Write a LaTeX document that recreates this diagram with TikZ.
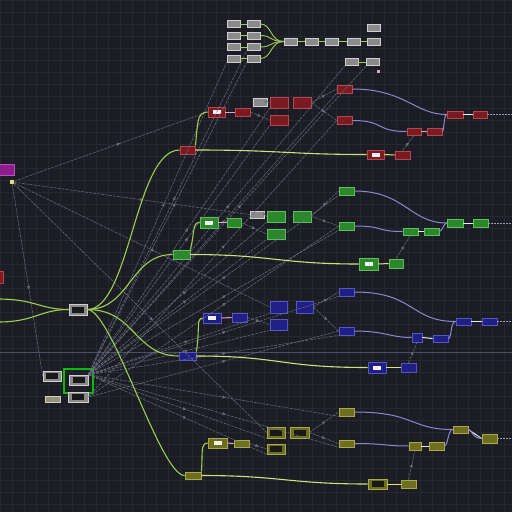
\documentclass[tikz,border=0pt]{standalone}
\usetikzlibrary{decorations.markings,arrows.meta}
\definecolor{bgc}{HTML}{1C1D24}
\definecolor{gridc}{HTML}{252731}
\definecolor{hlc}{HTML}{4B4E6A}
\definecolor{redf}{HTML}{7A1B22}
\definecolor{redd}{HTML}{B5464E}
\definecolor{grnf}{HTML}{2A872A}
\definecolor{grnd}{HTML}{5CC05C}
\definecolor{bluf}{HTML}{1F1F84}
\definecolor{blud}{HTML}{5656C2}
\definecolor{olvf}{HTML}{6E6E1F}
\definecolor{olvd}{HTML}{A9A94A}
\definecolor{gryf}{HTML}{8A8A8A}
\definecolor{gryd}{HTML}{CFCFCF}
\definecolor{magf}{HTML}{8C1E8C}
\definecolor{magd}{HTML}{C04CC0}
\definecolor{purc}{HTML}{8E86D0}
\definecolor{lgc}{HTML}{9ECE4C}
\definecolor{ygc}{HTML}{CDE27A}
\definecolor{dgc}{HTML}{6C7084}
\definecolor{pkc}{HTML}{E7A0C8}
\definecolor{ylc}{HTML}{E6E07A}
\begin{document}
\begin{tikzpicture}[x=1pt,y=-1pt,
  nd/.style={rectangle, inner sep=0pt, line width=0.7pt},
  sz/.style 2 args={minimum width=#1pt, minimum height=#2pt},
  rn/.style={nd, fill=redf, draw=redd},
  gn/.style={nd, fill=grnf, draw=grnd},
  bn/.style={nd, fill=bluf, draw=blud},
  on/.style={nd, fill=olvf, draw=olvd},
  yn/.style={nd, fill=gryf, draw=gryd},
  linebox/.style={path picture={\fill[white!88!gray] ([xshift=-4pt,yshift=-2pt]path picture bounding box.center) rectangle ([xshift=4pt,yshift=2pt]path picture bounding box.center);}},
  darkbox/.style={path picture={\fill[black!90] ([xshift=-6pt,yshift=-3pt]path picture bounding box.center) rectangle ([xshift=6pt,yshift=3pt]path picture bounding box.center);}},
  gw/.style={draw=lgc, line width=1.1pt},
  yw/.style={draw=ygc, line width=1.1pt},
  pw/.style={draw=purc, line width=1pt},
  lk/.style={draw=pkc, line width=1pt},
  lkw/.style={draw=white!80!purc, line width=1pt},
  lky/.style={draw=ylc, line width=1pt},
  ref/.style={draw=dgc, line width=0.6pt, dash pattern=on 3pt off 1pt, opacity=0.85,
     postaction={decorate}, decoration={markings, mark=at position 0.55 with {\arrow[fill=dgc, draw=dgc]{Latex[length=3.5pt,width=3.5pt]}}}},
  refp/.style={draw=dgc!70!white, line width=0.6pt, dash pattern=on 1.5pt off 1.5pt}
]
\useasboundingbox (0,0) rectangle (512,512);
\fill[bgc] (0,0) rectangle (512,512);
\foreach \i in {0,12,...,504} {
  \draw[gridc, line width=0.4pt] (\i,0) -- (\i,512);
  \draw[gridc, line width=0.4pt] (0,\i) -- (512,\i);
}
\draw[hlc, line width=1pt] (0,352.5) -- (512,352.5);

% ---------------- left nodes
\node[nd, fill=magf, draw=magd, sz={17}{11}] (mg) at (6,170) {};
\node[nd, fill=ylc, draw=ylc, sz={3}{3}] (ys) at (12,182) {};
\node[rn, sz={9}{12}] (rl) at (-1,277) {};
\node[yn, darkbox, sz={18}{11}] (gm) at (78,309.5) {};
\node[yn, darkbox, sz={18}{10}] (n1) at (52,376) {};
\node[nd, draw=green!75!black, line width=1.3pt, sz={29}{24}] (fr) at (78.5,381) {};
\node[yn, darkbox, sz={19}{10}] (n2) at (78.5,380) {};
\node[yn, darkbox, sz={20}{10}] (n3) at (78,397) {};
\node[nd, fill=gryf!70!olvd, draw=gryd, sz={15}{6}] (n4) at (52.5,399) {};
\coordinate (inA) at (-2,299);
\coordinate (inB) at (-2,322);

% ---------------- top cluster
\foreach \r/\yy in {1/24,2/35.5,3/47,4/58.5} {
  \node[yn, sz={13}{7}] (ca\r) at (233.5,\yy) {};
  \node[yn, sz={13}{7}] (cb\r) at (253.5,\yy) {};
}
\node[yn, sz={13}{7}] (t1) at (290.5,41.5) {};
\node[yn, sz={13}{7}] (t2) at (311.5,41.5) {};
\node[yn, sz={13}{7}] (t3) at (332,41.5) {};
\node[yn, sz={13}{7}] (t4) at (354,41.5) {};
\node[yn, sz={13}{7}] (t5) at (373.5,41.5) {};
\node[yn, sz={13}{7}] (t6) at (373.5,28) {};
\node[yn, sz={13}{7}] (t7) at (351.5,62) {};
\node[yn, sz={13}{7}] (t8) at (373,62) {};
\node[nd, fill=pkc, sz={3}{3}] (tp) at (378.5,71.5) {};

% ---------------- red row
\node[rn, sz={15}{8}] (rS) at (187.5,150) {};
\node[rn, linebox, sz={17}{10}] (rL) at (216.5,112) {};
\node[rn, sz={15}{8}] (rA) at (242.5,112) {};
\node[yn, sz={14}{8}] (rY) at (260,102) {};
\node[rn, sz={18}{11}] (rB) at (279,102.5) {};
\node[rn, sz={18}{11}] (rC) at (302,102.5) {};
\node[rn, sz={18}{10}] (rD) at (279,120) {};
\node[rn, sz={15}{8}] (rE) at (344.5,89) {};
\node[rn, sz={15}{8}] (rF) at (344.5,120.5) {};
\node[rn, sz={14}{7}] (rG) at (414,131.5) {};
\node[rn, sz={15}{7}] (rH) at (434.5,131.5) {};
\node[rn, sz={16}{7}] (rI) at (455,114.5) {};
\node[rn, sz={14}{7}] (rJ) at (480,114.5) {};
\node[rn, linebox, sz={17}{9}] (rK) at (375.5,154.5) {};
\node[rn, sz={15}{8}] (rM) at (402.5,155) {};

% ---------------- green row
\node[gn, sz={17}{9}] (gS) at (181.5,254.5) {};
\node[gn, linebox, sz={18}{11}] (gL) at (209,222.5) {};
\node[gn, sz={14}{9}] (gA) at (234,222.5) {};
\node[yn, sz={14}{7}] (gY) at (257,214.5) {};
\node[gn, sz={18}{11}] (gB) at (276,216.5) {};
\node[gn, sz={18}{11}] (gC) at (302,216.5) {};
\node[gn, sz={18}{10}] (gD) at (276,234) {};
\node[gn, sz={15}{8}] (gE) at (346.5,191) {};
\node[gn, sz={15}{8}] (gF) at (346.5,226) {};
\node[gn, sz={15}{7}] (gG) at (410.5,231.5) {};
\node[gn, sz={15}{7}] (gH) at (431.5,231.5) {};
\node[gn, sz={16}{8}] (gI) at (455,223) {};
\node[gn, sz={15}{8}] (gJ) at (480.5,223) {};
\node[gn, linebox, sz={19}{12}] (gK) at (368.5,264) {};
\node[gn, sz={14}{9}] (gM) at (396,263.5) {};

% ---------------- blue row
\node[bn, sz={17}{8}] (bS) at (187.5,356) {};
\node[bn, linebox, sz={18}{10}] (bL) at (212,318) {};
\node[bn, sz={15}{9}] (bA) at (239.5,317.5) {};
\node[bn, sz={17}{12}] (bB) at (278.5,307) {};
\node[bn, sz={17}{12}] (bC) at (304.5,307) {};
\node[bn, sz={17}{11}] (bD) at (278.5,324.5) {};
\node[bn, sz={15}{8}] (bE) at (346.5,292) {};
\node[bn, sz={15}{8}] (bF) at (346.5,331) {};
\node[bn, sz={10}{9}] (bG) at (417,337.5) {};
\node[bn, sz={15}{7}] (bH) at (440.5,338.5) {};
\node[bn, sz={15}{7}] (bI) at (463.5,321.5) {};
\node[bn, sz={15}{7}] (bJ) at (489.5,321.5) {};
\node[bn, linebox, sz={18}{11}] (bK) at (377,367.5) {};
\node[bn, sz={15}{9}] (bM) at (408.5,367.5) {};

% ---------------- olive row
\node[on, sz={16}{7}] (oS) at (193,475.5) {};
\node[on, linebox, sz={19}{10}] (oL) at (217.5,443) {};
\node[on, sz={15}{7}] (oA) at (241.5,443.5) {};
\node[on, darkbox, sz={18}{11}] (oB) at (276,432.5) {};
\node[on, darkbox, sz={19}{11}] (oC) at (299.5,432.5) {};
\node[on, darkbox, sz={18}{10}] (oD) at (276,449) {};
\node[on, sz={15}{8}] (oE) at (346.5,412) {};
\node[on, sz={15}{7}] (oF) at (346.5,443.5) {};
\node[on, sz={12}{8}] (oG) at (415,446) {};
\node[on, sz={15}{8}] (oH) at (436.5,446) {};
\node[on, sz={15}{7}] (oI) at (460.5,429.5) {};
\node[on, sz={15}{9}] (oJ) at (489.5,438.5) {};
\node[on, darkbox, sz={19}{10}] (oK) at (377.5,484) {};
\node[on, sz={15}{8}] (oM) at (408.5,484) {};

\coordinate (eR) at (512,114.5);
\coordinate (eG) at (512,223);
\coordinate (eB) at (512,321.5);
\coordinate (eO) at (512,438.5);

% ---------------- reference lines
\foreach \t in {ca4,cb4,cb3,t7,t8,rB,rD,rE,gB,gD,gE,gF,bB,bD,bE,bF,oB,oD,oE,oF} {
  \draw[ref] (n2.north east) -- (\t.south west);
}
\foreach \t in {rL,gY,bB,oB,n1} {
  \draw[ref] (ys) -- (\t.west);
}
\foreach \t in {rF,gF,bF} {
  \draw[ref] (n3.east) -- (\t.west);
}
\draw[ref] (rC.east) -- (rE.west);
\draw[ref] (rC.east) -- (rF.west);
\draw[ref] (rY.east) -- (rB.west);
\draw[ref] (rA.east) -- (rD.west);
\draw[ref] (gC.east) -- (gE.west);
\draw[ref] (gC.east) -- (gF.west);
\draw[ref] (gY.east) -- (gB.west);
\draw[ref] (gA.east) -- (gD.west);
\draw[ref] (bC.east) -- (bE.west);
\draw[ref] (bC.east) -- (bF.west);
\draw[ref] (bA.east) -- (bD.west);
\draw[ref] (oC.east) -- (oE.west);
\draw[ref] (oC.east) -- (oF.west);
\draw[ref] (oA.east) -- (oD.west);
\draw[ref] (rM.north) -- (rG.south);
\draw[ref] (gM.north) -- (gG.south);
\draw[ref] (bM.north) -- (bG.south);
\draw[ref] (oM.north) -- (oG.south);
\draw[refp] (rJ.east) -- (eR);
\draw[refp] (gJ.east) -- (eG);
\draw[refp] (bJ.east) -- (eB);
\draw[refp] (oJ.east) -- (eO);

% ---------------- green fan
\draw[gw] (inA) .. controls (35,299) and (40,309.5) .. (gm.west);
\draw[gw] (inB) .. controls (35,322) and (40,309.5) .. (gm.west);
\draw[gw] (gm.east) .. controls (130,309.5) and (135,150) .. (rS.west);
\draw[gw] (gm.east) .. controls (130,309.5) and (130,254.5) .. (gS.west);
\draw[gw] (gm.east) .. controls (135,309.5) and (135,356) .. (bS.west);
\draw[gw] (gm.east) .. controls (112,309.5) and (160,475.5) .. (oS.west);

% rows: Sel -> line (up) and Sel -> line (long)
\draw[gw] (rS.north east) .. controls (198,125) and (196,112) .. (rL.west);
\draw[gw] (gS.north east) .. controls (195,232) and (192,222.5) .. (gL.west);
\draw[gw] (bS.north east) .. controls (200,330) and (196,318) .. (bL.west);
\draw[gw] (oS.north east) .. controls (203,455) and (200,443) .. (oL.west);
\draw[yw] (rS.east) .. controls (280,150) and (290,154.5) .. (rK.west);
\draw[yw] (gS.east) .. controls (270,254.5) and (280,264) .. (gK.west);
\draw[yw] (bS.east) .. controls (280,356) and (280,367.5) .. (bK.west);
\draw[yw] (oS.east) .. controls (280,475.5) and (290,484) .. (oK.west);

% short links
\draw[lk] (rL.east) -- (rA.west);
\draw[lk] (gL.east) -- (gA.west);
\draw[lk] (bL.east) -- (bA.west);
\draw[lk] (oL.east) -- (oA.west);
\draw[lky] (rK.east) -- (rM.west);
\draw[lky] (gK.east) -- (gM.west);
\draw[lky] (bK.east) -- (bM.west);
\draw[lky] (oK.east) -- (oM.west);
\draw[lk] (rG.east) -- (rH.west);
\draw[lkw] (gG.east) -- (gH.west);
\draw[lkw] (bG.east) -- (bH.west);
\draw[lkw] (oG.east) -- (oH.west);
\draw[lkw] (rI.east) -- (rJ.west);
\draw[lkw] (gI.east) -- (gJ.west);
\draw[lkw] (bI.east) -- (bJ.west);
\draw[lkw] (oI.east) -- (oJ.west);

% purple curves
\draw[pw] (rE.east) .. controls (405,89) and (415,114.5) .. (rI.west);
\draw[pw] (rF.east) .. controls (385,120.5) and (375,131.5) .. (rG.west);
\draw[pw] (rH.east) .. controls (444,131.5) and (444,114.5) .. (rI.west);
\draw[pw] (gE.east) .. controls (405,191) and (410,223) .. (gI.west);
\draw[pw] (gF.east) .. controls (385,226) and (375,231.5) .. (gG.west);
\draw[pw] (gH.east) .. controls (442,231.5) and (444,223) .. (gI.west);
\draw[pw] (bE.east) .. controls (415,292) and (410,321.5) .. (bI.west);
\draw[pw] (bF.east) .. controls (385,331) and (390,337.5) .. (bG.west);
\draw[pw] (bH.east) .. controls (452,338.5) and (450,321.5) .. (bI.west);
\draw[pw] (oE.east) .. controls (415,412) and (410,429.5) .. (oI.west);
\draw[pw] (oF.east) .. controls (385,443.5) and (385,446) .. (oG.west);
\draw[pw] (oH.east) .. controls (448,446) and (448,429.5) .. (oI.west);
\draw[pw] (oI.east) .. controls (472,429.5) and (472,438.5) .. (oJ.west);

% top cluster links
\foreach \r/\yy in {1/24,2/35.5,3/47,4/58.5} {
  \draw[gw, line width=0.9pt] (ca\r.east) -- (cb\r.west);
  \draw[gw, line width=0.9pt] (cb\r.east) .. controls (272,\yy) and (270,41.5) .. (t1.west);
}
\draw[gw, line width=0.9pt] (t1.east) -- (t2.west);
\draw[gw, line width=0.9pt] (t2.east) -- (t3.west);
\draw[gw, line width=0.9pt] (t3.east) -- (t4.west);
\draw[gw, line width=0.9pt] (t4.east) -- (t5.west);
\draw[gw, line width=0.9pt] (t7.east) -- (t8.west);
\end{tikzpicture}
\end{document}
